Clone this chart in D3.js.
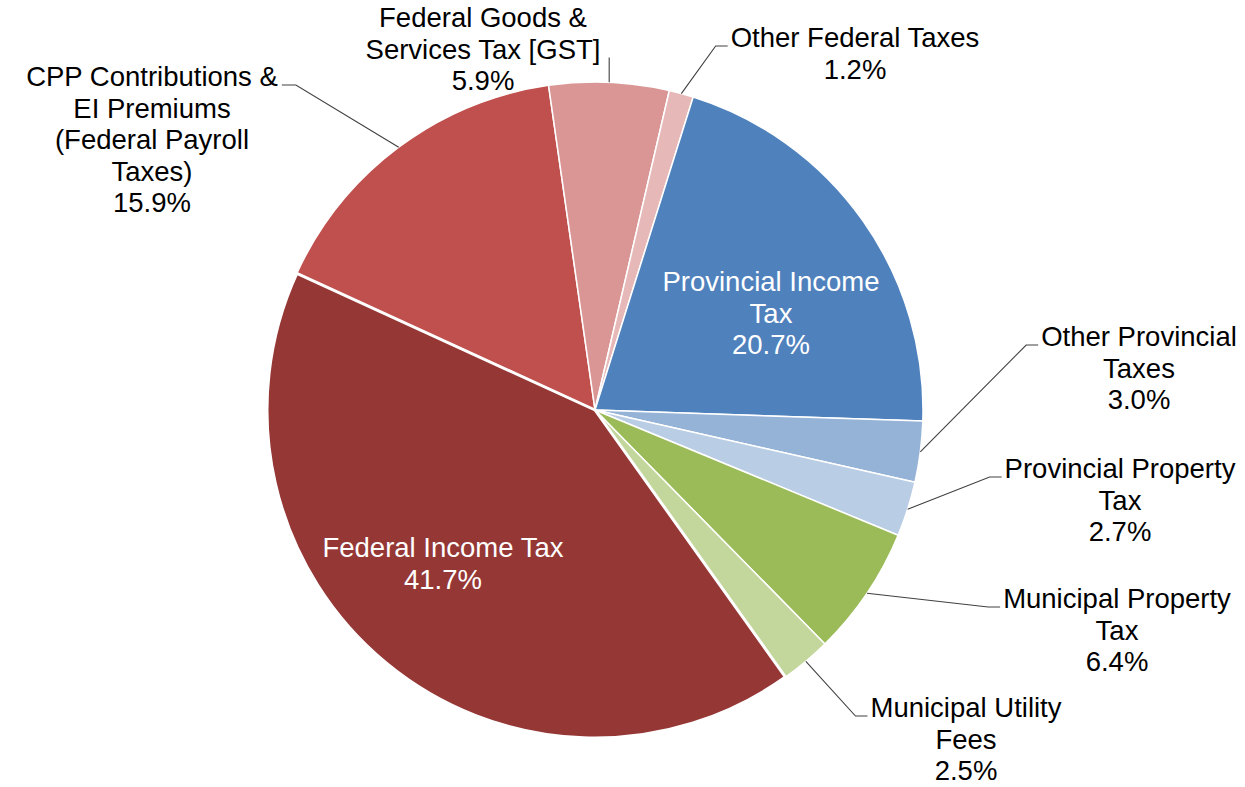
<!DOCTYPE html>
<html>
<head>
<meta charset="utf-8">
<script src="https://cdn.jsdelivr.net/npm/d3@7"></script>
<style>
  html, body { margin: 0; padding: 0; background: #ffffff; }
  svg { display: block; }
  text { font-family: "Liberation Sans", Arial, sans-serif; }
</style>
</head>
<body>
<svg id="chart" width="1245" height="787"></svg>
<script>
// Share of total tax paid, by type (percent)
const categories = [
  "Federal Income Tax",
  "CPP Contributions & EI Premiums (Federal Payroll Taxes)",
  "Federal Goods & Services Tax [GST]",
  "Other Federal Taxes",
  "Provincial Income Tax",
  "Other Provincial Taxes",
  "Provincial Property Tax",
  "Municipal Property Tax",
  "Municipal Utility Fees"
];
const shares = [41.7, 15.9, 5.9, 1.2, 20.7, 3.0, 2.7, 6.4, 2.5];

// How each category name is broken over lines in its label
const labelLines = [
  ["Federal Income Tax"],
  ["CPP Contributions &", "EI Premiums", "(Federal Payroll", "Taxes)"],
  ["Federal Goods &", "Services Tax [GST]"],
  ["Other Federal Taxes"],
  ["Provincial Income", "Tax"],
  ["Other Provincial", "Taxes"],
  ["Provincial Property", "Tax"],
  ["Municipal Property", "Tax"],
  ["Municipal Utility", "Fees"]
];

// ---- styling & layout ----
const colors = ["#953735", "#C0504D", "#D99694", "#E6B9B8", "#4F81BD",
                "#95B3D7", "#B9CDE5", "#9BBB59", "#C3D69B"];
const cx = 595, cy = 410, radius = 328;
const firstSliceAngle = 144.5 * Math.PI / 180;
const fontSize = 27.5, lineHeight = 31.5;

// label placement: centre x, first baseline y, where the leader meets it
const labelLayout = [
  { x: 443,  y: 557, inside: true },
  { x: 152,  y: 86,  side: "left" },
  { x: 483,  y: 27,  side: "top" },
  { x: 855,  y: 47,  side: "right" },
  { x: 771,  y: 291, inside: true },
  { x: 1139, y: 346, side: "right" },
  { x: 1120, y: 478, side: "right" },
  { x: 1117, y: 608, side: "right" },
  { x: 966,  y: 717, side: "right" }
];

const svg = d3.select("#chart");
const fmt = d3.format(".1f");

const pie = d3.pie()
  .sort(null)
  .value(d => d)
  .startAngle(firstSliceAngle)
  .endAngle(firstSliceAngle + 2 * Math.PI);

const arcs = pie(shares);
const arc = d3.arc().innerRadius(0).outerRadius(radius);

const g = svg.append("g").attr("transform", `translate(${cx},${cy})`);

// slices
g.selectAll("path.slice")
  .data(arcs)
  .join("path")
  .attr("class", "slice")
  .attr("d", arc)
  .attr("fill", (d, i) => colors[i])
  .attr("stroke", "#ffffff")
  .attr("stroke-width", 1.5)
  .attr("stroke-linejoin", "round");

// the largest slice carries a heavier white edge
g.append("path")
  .datum(arcs[0])
  .attr("d", arc)
  .attr("fill", colors[0])
  .attr("stroke", "#ffffff")
  .attr("stroke-width", 3)
  .attr("stroke-linejoin", "round");

// labels
const labels = svg.append("g");
arcs.forEach((a, i) => {
  const lay = labelLayout[i];
  const lines = labelLines[i].concat([fmt(a.data) + "%"]);
  const t = labels.append("text")
    .attr("text-anchor", "middle")
    .attr("font-size", fontSize)
    .attr("fill", lay.inside ? "#ffffff" : "#000000");
  lines.forEach((ln, k) => {
    t.append("tspan")
      .attr("x", lay.x)
      .attr("y", lay.y + k * lineHeight)
      .text(ln);
  });
  if (lay.inside) return;

  // leader line from the slice's outer edge at its mid angle
  const mid = (a.startAngle + a.endAngle) / 2;
  const sx = cx + radius * Math.sin(mid);
  const sy = cy - radius * Math.cos(mid);
  const box = t.node().getBBox();
  let pts;
  if (lay.side === "right") {
    const ax = box.x - 3, ay = lay.y - 1;
    pts = [[sx, sy], [ax - 12, ay], [ax, ay]];
  } else if (lay.side === "left") {
    const ax = box.x + box.width + 4, ay = lay.y - 1;
    pts = [[sx, sy], [ax + 14, ay], [ax, ay]];
  } else {
    const ay = lay.y + lineHeight - 1;
    pts = [[sx, sy], [sx, ay]];
  }
  labels.append("path")
    .attr("d", d3.line()(pts))
    .attr("fill", "none")
    .attr("stroke", "#404040")
    .attr("stroke-width", 1.1);
});
</script>
</body>
</html>
